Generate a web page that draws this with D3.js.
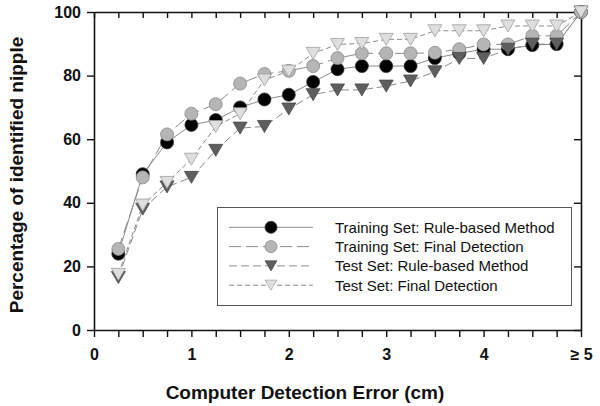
<!DOCTYPE html>
<html>
<head>
<meta charset="utf-8">
<script src="https://cdn.jsdelivr.net/npm/d3@7"></script>
<style>
  body { margin: 0; background: #fff; }
  svg { display: block; font-family: "Liberation Sans", Arial, Helvetica, sans-serif; }
</style>
</head>
<body>
<svg id="chart" width="600" height="406"></svg>
<script>
// error thresholds (cm), last one means ">= 5"
const errorCm = [0.25, 0.5, 0.75, 1, 1.25, 1.5, 1.75, 2, 2.25, 2.5, 2.75, 3, 3.25, 3.5, 3.75, 4, 4.25, 4.5, 4.75, 5];

const trainRule  = [24, 49, 59, 64.5, 66, 70, 72.5, 74, 78, 82, 83, 83, 83, 85.5, 87, 88.3, 88.3, 89.6, 89.9, 100];
const trainFinal = [25.5, 48, 61.5, 68, 71, 77.5, 80.5, 81.5, 83, 85.5, 87, 87, 87, 87.2, 88.3, 89.8, 89.8, 92.5, 92.5, 100];
const testRule   = [16.5, 38, 45, 48, 56.5, 63.5, 64, 69.5, 74, 75.5, 75.5, 76.7, 78.3, 81.2, 85.4, 85.4, 88.3, 89.9, 89.9, 100];
const testFinal  = [17.5, 39.3, 46.4, 53.7, 64, 68, 78.6, 81.4, 87, 89.8, 90.1, 91.4, 91.4, 94.1, 94.1, 94.1, 95.6, 95.6, 95.6, 100];

const seriesNames = [
  "Training Set: Rule-based Method",
  "Training Set: Final Detection",
  "Test Set: Rule-based Method",
  "Test Set: Final Detection"
];

const xTicks = d3.range(0, 5.001, 0.25);
const yTicks = [0, 20, 40, 60, 80, 100];

const margin = { top: 12, right: 19, bottom: 76, left: 94 };
const svg = d3.select("#chart");
const width = +svg.attr("width") - margin.left - margin.right;
const height = +svg.attr("height") - margin.top - margin.bottom;
const g = svg.append("g").attr("transform", `translate(${margin.left},${margin.top})`);

const x = d3.scaleLinear().domain([0, 5]).range([0, width]);
const y = d3.scaleLinear().domain([0, 100]).range([height, 0]);

// marker styles per series
const styles = [
  { shape: "circle", fill: "#000", stroke: "#333", dash: null },
  { shape: "circle", fill: "#b5b5b5", stroke: "#8a8a8a", dash: "12,5" },
  { shape: "tri", fill: "#5e5e5e", stroke: "#4a4a4a", dash: "8,4" },
  { shape: "tri", fill: "#dedede", stroke: "#a0a0a0", dash: "5,3" }
];
const allSeries = [trainRule, trainFinal, testRule, testFinal].map((vals, i) => ({
  name: seriesNames[i],
  style: styles[i],
  points: vals.map((v, j) => ({ x: errorCm[j], y: v }))
}));

const triPath = "M-7,-6L7,-6L0,6Z";

function drawMarker(sel, st) {
  if (st.shape === "circle") {
    sel.append("circle").attr("r", 6.5);
  } else {
    sel.append("path").attr("d", triPath);
  }
  sel.selectAll("circle,path")
    .attr("fill", st.fill)
    .attr("stroke", st.stroke)
    .attr("stroke-width", 0.8);
}

// axes
const fmtX = d => (Math.abs(d - Math.round(d)) < 1e-6 ? (d === 5 ? "\u2265 5" : String(d)) : "");

const axB = g.append("g")
  .attr("transform", `translate(0,${height})`)
  .call(d3.axisBottom(x).tickValues(xTicks).tickSizeInner(7).tickSizeOuter(0).tickPadding(12).tickFormat(fmtX));
const axT = g.append("g")
  .call(d3.axisTop(x).tickValues(xTicks).tickSizeInner(-6).tickSizeOuter(0).tickFormat(""));
const axL = g.append("g")
  .call(d3.axisLeft(y).tickValues(yTicks).tickSizeInner(7).tickSizeOuter(0).tickPadding(6));
const axR = g.append("g")
  .attr("transform", `translate(${width},0)`)
  .call(d3.axisRight(y).tickValues(yTicks).tickSizeInner(-7).tickSizeOuter(0).tickFormat(""));

[axB, axT, axL, axR].forEach(a => {
  a.selectAll("path.domain").attr("stroke", "#111").attr("stroke-width", 1.6);
  a.selectAll(".tick line").attr("stroke", "#111").attr("stroke-width", 1.4);
  a.selectAll(".tick text")
    .attr("fill", "#111")
    .style("font-size", "16px")
    .style("font-weight", "bold")
    .style("font-family", "'Liberation Sans', Arial, sans-serif");
});

// lines
const line = d3.line().x(d => x(d.x)).y(d => y(d.y));
allSeries.forEach(s => {
  g.append("path")
    .datum(s.points)
    .attr("fill", "none")
    .attr("stroke", "#8c8c8c")
    .attr("stroke-width", 1)
    .attr("stroke-dasharray", s.style.dash)
    .attr("d", line);
});

// markers
allSeries.forEach(s => {
  g.append("g").selectAll("g")
    .data(s.points)
    .join("g")
    .attr("transform", d => `translate(${x(d.x)},${y(d.y)})`)
    .each(function () { drawMarker(d3.select(this), s.style); });
});

// legend
const legend = svg.append("g");
legend.append("rect")
  .attr("x", 217.5).attr("y", 207.5)
  .attr("width", 354).attr("height", 98)
  .attr("fill", "#fff")
  .attr("stroke", "#555")
  .attr("stroke-width", 1);

allSeries.forEach((s, i) => {
  const cy = 227.3 + i * 19.3;
  const row = legend.append("g");
  row.append("line")
    .attr("x1", 229).attr("x2", 313)
    .attr("y1", cy).attr("y2", cy)
    .attr("stroke", "#8c8c8c")
    .attr("stroke-width", 1)
    .attr("stroke-dasharray", s.style.dash);
  const m = row.append("g").attr("transform", `translate(271,${cy})`);
  drawMarker(m, s.style);
  m.selectAll("circle").attr("r", 6);
  m.selectAll("path").attr("transform", "scale(0.85)");
  row.append("text")
    .attr("x", 335)
    .attr("y", cy + 5.5)
    .attr("fill", "#111")
    .style("font-size", "15px")
    .text(s.name);
});

// axis titles
svg.append("text")
  .attr("x", 305)
  .attr("y", 399)
  .attr("text-anchor", "middle")
  .attr("fill", "#111")
  .style("font-size", "19px")
  .style("font-weight", "bold")
  .text("Computer Detection Error (cm)");

svg.append("text")
  .attr("transform", "translate(23,175) rotate(-90)")
  .attr("text-anchor", "middle")
  .attr("fill", "#111")
  .style("font-size", "19px")
  .style("font-weight", "bold")
  .text("Percentage of identified nipple");
</script>
</body>
</html>
